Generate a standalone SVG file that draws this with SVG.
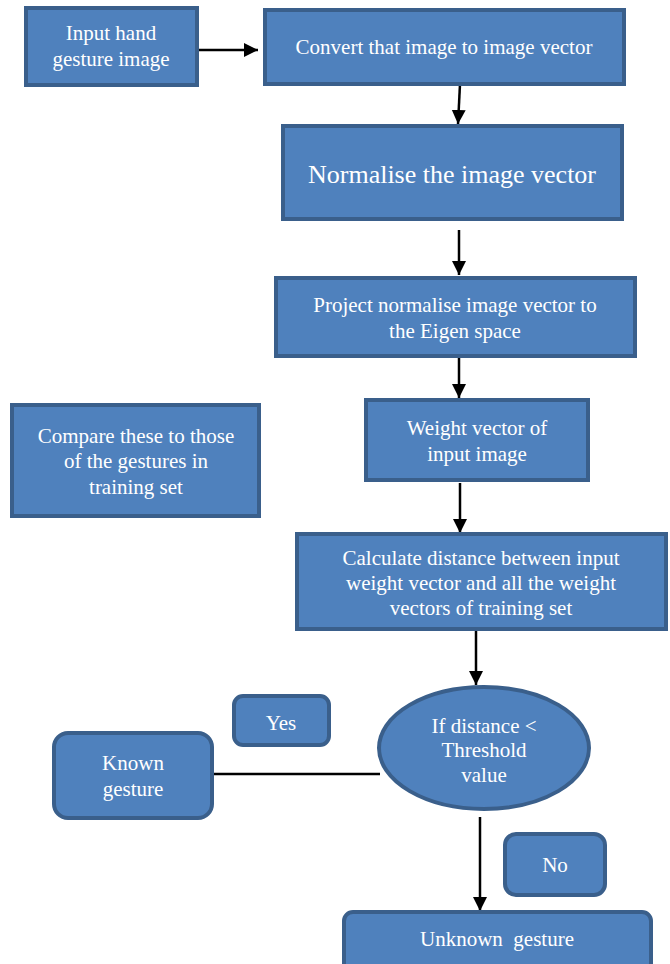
<svg xmlns="http://www.w3.org/2000/svg" width="670" height="964" viewBox="0 0 670 964">
<style>
.n{fill:#4f81bd;stroke:#3a5f8b;stroke-width:4}
.t{font-family:"Liberation Serif","Times New Roman",serif;font-size:21px;fill:#ffffff;text-anchor:middle}
.c{stroke:#000;stroke-width:2.5;fill:none}
</style>
<defs>
<marker id="ah" markerUnits="userSpaceOnUse" markerWidth="16" markerHeight="16" refX="14" refY="7" orient="auto">
<path d="M0,0 L14,7 L0,14 Z" fill="#000"/>
</marker>
</defs>
<g id="connectors">
<line class="c" x1="190" y1="50" x2="258" y2="50" marker-end="url(#ah)"/>
<line class="c" x1="460" y1="84" x2="458" y2="124" marker-end="url(#ah)"/>
<line class="c" x1="459" y1="230" x2="459" y2="275" marker-end="url(#ah)"/>
<line class="c" x1="459" y1="358" x2="459" y2="398" marker-end="url(#ah)"/>
<line class="c" x1="460" y1="483" x2="460" y2="533" marker-end="url(#ah)"/>
<line class="c" x1="476" y1="631" x2="476" y2="685" marker-end="url(#ah)"/>
<line class="c" x1="480" y1="817" x2="480" y2="911" marker-end="url(#ah)"/>
<line class="c" x1="214" y1="774" x2="380" y2="774"/>
</g>
<g id="input">
<rect class="n" x="26" y="8" width="171" height="77"/>
<text class="t" x="111" y="40">Input hand</text>
<text class="t" x="111" y="66">gesture image</text>
</g>
<g id="convert">
<rect class="n" x="265" y="10" width="359" height="74"/>
<text class="t" x="444" y="54">Convert that image to image vector</text>
</g>
<g id="normalise">
<rect class="n" x="283" y="126" width="339" height="93"/>
<text class="t" x="452" y="183" style="font-size:26px">Normalise the image vector</text>
</g>
<g id="project">
<rect class="n" x="276" y="278" width="359" height="78"/>
<text class="t" x="455" y="312">Project normalise image vector to</text>
<text class="t" x="455" y="338">the Eigen space</text>
</g>
<g id="compare">
<rect class="n" x="12" y="405" width="247" height="111"/>
<text class="t" x="136" y="443">Compare these to those</text>
<text class="t" x="136" y="468">of the gestures in</text>
<text class="t" x="136" y="494">training set</text>
</g>
<g id="weight">
<rect class="n" x="366" y="400" width="222" height="80"/>
<text class="t" x="477" y="435">Weight vector of</text>
<text class="t" x="477" y="461">input image</text>
</g>
<g id="calculate">
<rect class="n" x="297" y="534" width="369" height="95"/>
<text class="t" x="481" y="565">Calculate distance between input</text>
<text class="t" x="481" y="590">weight vector and all the weight</text>
<text class="t" x="481" y="615">vectors of training set</text>
</g>
<g id="decision">
<ellipse class="n" cx="484" cy="748" rx="105" ry="61"/>
<text class="t" x="484" y="733">If distance &lt;</text>
<text class="t" x="484" y="757">Threshold</text>
<text class="t" x="484" y="782">value</text>
</g>
<g id="yes">
<rect class="n" x="234" y="696" width="95" height="49" rx="9"/>
<text class="t" x="281" y="730">Yes</text>
</g>
<g id="known">
<rect class="n" x="54" y="733" width="158" height="85" rx="14"/>
<text class="t" x="133" y="770">Known</text>
<text class="t" x="133" y="796">gesture</text>
</g>
<g id="no">
<rect class="n" x="505" y="834" width="100" height="61" rx="11"/>
<text class="t" x="555" y="872">No</text>
</g>
<g id="unknown">
<rect class="n" x="344" y="912" width="307" height="60" rx="9"/>
<text class="t" x="497" y="946" xml:space="preserve">Unknown  gesture</text>
</g>
</svg>
